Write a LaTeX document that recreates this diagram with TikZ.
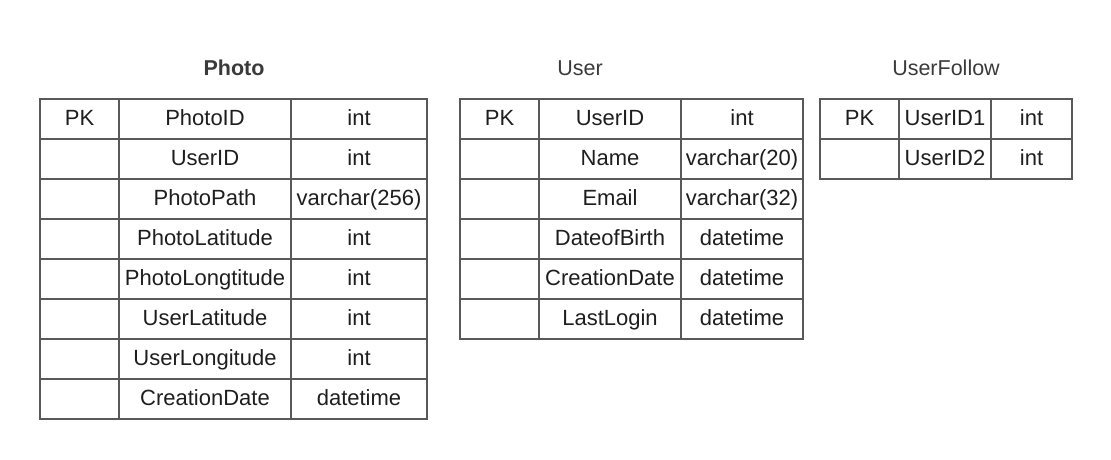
\documentclass[tikz,border=0pt]{standalone}
\usepackage{fontspec}
\setmainfont{Liberation Sans}
\usetikzlibrary{positioning}
\definecolor{gridgray}{HTML}{595959}
\definecolor{inkgray}{HTML}{1E1E1E}
\definecolor{headgray}{HTML}{3A3A3A}

\begin{document}
\begin{tikzpicture}
[
    x=1pt, y=-1pt,
    cell/.style={draw=gridgray, line width=2.6pt, minimum height=40pt, inner sep=0pt, outer sep=0pt,
        text height=16pt, text depth=4pt, text=inkgray, font=\fontsize{22}{26}\selectfont},
    title/.style={text=headgray, font=\fontsize{21.5}{26}\selectfont},
]
\useasboundingbox (0,0) rectangle (1111,460);

% Photo
\node [title, font=\fontsize{21.5}{26}\selectfont\bfseries] (phototitle) at (234,68) {Photo};
\foreach \i/\k/\f/\t in {1/PK/PhotoID/int, 2//UserID/int, 3//PhotoPath/varchar(256),
    4//PhotoLatitude/int, 5//PhotoLongtitude/int, 6//UserLatitude/int,
    7//UserLongitude/int, 8//CreationDate/datetime}
{
    \node [cell, minimum width=79pt, anchor=north west] (photokey\i) at (40,59+40*\i) {\k};
    \node [cell, minimum width=172pt, right=0pt of photokey\i] (photofield\i) {\f};
    \node [cell, minimum width=136pt, right=0pt of photofield\i] (phototype\i) {\t};
}

% User
\node [title] (usertitle) at (580,68) {User};
\foreach \i/\k/\f/\t in {1/PK/UserID/int, 2//Name/varchar(20), 3//Email/varchar(32),
    4//DateofBirth/datetime, 5//CreationDate/datetime, 6//LastLogin/datetime}
{
    \node [cell, minimum width=79pt, anchor=north west] (userkey\i) at (460,59+40*\i) {\k};
    \node [cell, minimum width=142pt, right=0pt of userkey\i] (userfield\i) {\f};
    \node [cell, minimum width=122pt, right=0pt of userfield\i] (usertype\i) {\t};
}

% UserFollow
\node [title] (followtitle) at (946,68) {UserFollow};
\foreach \i/\k/\f/\t in {1/PK/UserID1/int, 2//UserID2/int}
{
    \node [cell, minimum width=79pt, anchor=north west] (followkey\i) at (820,59+40*\i) {\k};
    \node [cell, minimum width=92pt, right=0pt of followkey\i] (followfield\i) {\f};
    \node [cell, minimum width=81pt, right=0pt of followfield\i] (followtype\i) {\t};
}
\end{tikzpicture}
\end{document}
